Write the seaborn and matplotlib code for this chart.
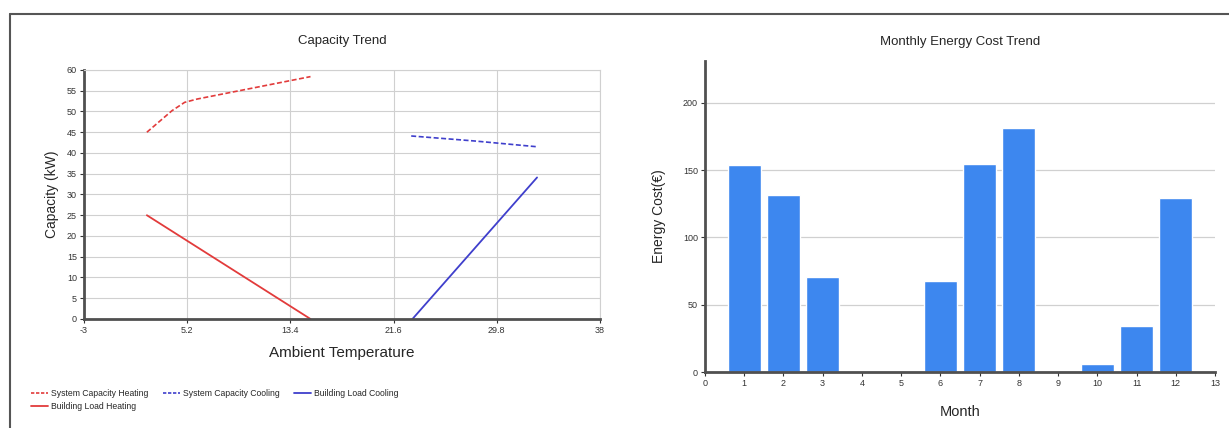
import numpy as np
import pandas as pd
import matplotlib
matplotlib.use("Agg")
import matplotlib.pyplot as plt
from matplotlib.lines import Line2D
import seaborn as sns

# --- data ---
sys_heat_temp = [2, 3, 4, 5, 6, 7, 8, 9, 10, 11, 12, 13, 14, 15]
sys_heat_cap = [45.0, 47.6, 50.2, 52.2, 53.0, 53.6, 54.2, 54.8, 55.4, 56.0, 56.6, 57.2, 57.8, 58.4]
load_heat_temp = [2, 15]
load_heat_cap = [25.0, 0.0]
sys_cool_temp = [23, 28, 33]
sys_cool_cap = [44.1, 42.9, 41.5]
load_cool_temp = [23.1, 33]
load_cool_cap = [0.0, 34.1]

months = [1, 2, 3, 4, 5, 6, 7, 8, 9, 10, 11, 12]
energy_cost = [153.5, 131.7, 70.8, 0, 0, 67.8, 154.3, 181.1, 0, 5.7, 34.3, 129.2]

temp_ticks = [-3, 5.2, 13.4, 21.6, 29.8, 38]
temp_labels = ["-3", "5.2", "13.4", "21.6", "29.8", "38"]

red = "#e23b3b"
blue = "#3f3fcc"
bar_blue = "#3d87ef"
axis_dark = "#505050"
grid_col = "#d0d0d0"

sns.set_theme(style="white")
plt.rcParams["font.family"] = ["Liberation Sans", "DejaVu Sans"]

fig = plt.figure(figsize=(12.29, 4.28), dpi=100)

# --- left: capacity trend ---
ax1 = fig.add_axes([0.0683, 0.2547, 0.4199, 0.5818])
sns.lineplot(x=sys_heat_temp, y=sys_heat_cap, ax=ax1, color=red, linewidth=1.2,
             linestyle=(0, (3, 1.5)))
sns.lineplot(x=load_heat_temp, y=load_heat_cap, ax=ax1, color=red, linewidth=1.3)
sns.lineplot(x=sys_cool_temp, y=sys_cool_cap, ax=ax1, color=blue, linewidth=1.2,
             linestyle=(0, (3, 1.5)))
sns.lineplot(x=load_cool_temp, y=load_cool_cap, ax=ax1, color=blue, linewidth=1.3)

ax1.set_xlim(-3, 38)
ax1.set_ylim(0, 60)
ax1.set_xticks(temp_ticks)
ax1.set_xticklabels(temp_labels)
ax1.set_yticks(np.arange(0, 61, 5))
ax1.grid(True, color=grid_col, linewidth=0.8)
ax1.set_axisbelow(True)
for side in ["top", "right"]:
    ax1.spines[side].set_color(grid_col)
    ax1.spines[side].set_linewidth(0.8)
for side in ["left", "bottom"]:
    ax1.spines[side].set_color(axis_dark)
    ax1.spines[side].set_linewidth(2)
ax1.tick_params(axis="both", labelsize=6.5, colors="#333333", length=3, width=0.8,
                left=True, bottom=True, pad=2)
ax1.set_title("Capacity Trend", fontsize=9.5, pad=18.5)
ax1.set_xlabel("Ambient Temperature", fontsize=11, labelpad=8)
ax1.set_ylabel("Capacity (kW)", fontsize=10, labelpad=6)

handles = [
    Line2D([], [], color=red, linewidth=1.2, linestyle=(0, (2, 1))),
    Line2D([], [], color=red, linewidth=1.3),
    Line2D([], [], color=blue, linewidth=1.2, linestyle=(0, (2, 1))),
    Line2D([], [], color=blue, linewidth=1.3),
]
labels = ["System Capacity Heating", "Building Load Heating",
          "System Capacity Cooling", "Building Load Cooling"]
fig.legend(handles, labels, ncol=3, loc="upper left", bbox_to_anchor=(0.025, 0.092),
           fontsize=6.2, frameon=False, handlelength=2.0, handletextpad=0.4,
           columnspacing=1.6, labelspacing=0.55, borderaxespad=0, borderpad=0)

# --- right: monthly energy cost ---
ax2 = fig.add_axes([0.5736, 0.1308, 0.415, 0.7266])
cost_df = pd.DataFrame({"Month": months, "Cost": energy_cost})
sns.barplot(data=cost_df, x="Month", y="Cost", ax=ax2, color=bar_blue,
            native_scale=True, width=0.84, saturation=1, errorbar=None)
ax2.set_xlim(0, 13)
ax2.set_ylim(0, 231)
ax2.set_xticks(range(0, 14))
ax2.set_yticks([0, 50, 100, 150, 200])
ax2.yaxis.grid(True, color=grid_col, linewidth=0.9)
ax2.xaxis.grid(False)
ax2.set_axisbelow(True)
ax2.spines["top"].set_visible(False)
ax2.spines["right"].set_visible(False)
for side in ["left", "bottom"]:
    ax2.spines[side].set_color(axis_dark)
    ax2.spines[side].set_linewidth(2)
ax2.tick_params(axis="both", labelsize=6.5, colors="#333333", length=3, width=0.8,
                left=True, bottom=True, pad=2)
ax2.set_title("Monthly Energy Cost Trend", fontsize=9.5, pad=11.5)
ax2.set_xlabel("Month", fontsize=10.5, labelpad=12)
ax2.set_ylabel("Energy Cost(\u20ac)", fontsize=10, labelpad=12)

# outer frame lines (top and left) seen in the reference
fig.add_artist(Line2D([0.008, 1.0], [0.967, 0.967], color="#555555", linewidth=1.5,
                      transform=fig.transFigure))
fig.add_artist(Line2D([0.008, 0.008], [0.0, 0.967], color="#555555", linewidth=1.5,
                      transform=fig.transFigure))

fig.savefig("out.png", dpi=100)
